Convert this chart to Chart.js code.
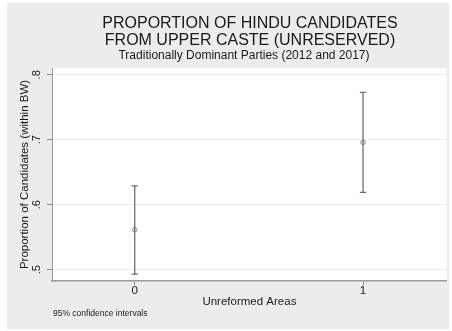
<!DOCTYPE html>
<html>
<head>
<meta charset="utf-8">
<script src="https://cdn.jsdelivr.net/npm/chart.js@4"></script>
<style>
  body { margin: 0; background: #fff; }
</style>
</head>
<body>
<canvas id="myChart" width="452" height="331"></canvas>
<script>
// data
var categories = [0, 1];
var means = [0.5615, 0.696];
var lower = [0.493, 0.619];
var upper = [0.629, 0.773];
var yTicks = [0.5, 0.6, 0.7, 0.8];
var yTickLabels = ['.5', '.6', '.7', '.8'];

var titleLines = ['PROPORTION OF HINDU CANDIDATES', 'FROM UPPER CASTE (UNRESERVED)'];
var subtitle = 'Traditionally Dominant Parties (2012 and 2017)';
var note = '95% confidence intervals';

var FONT = "'Liberation Sans', Arial, sans-serif";

var datasets = [];
for (var i = 0; i < categories.length; i++) {
    datasets.push({
        type: 'line',
        data: [{x: categories[i], y: lower[i]}, {x: categories[i], y: upper[i]}],
        borderColor: '#646464',
        borderWidth: 1.2,
        pointStyle: 'line',
        pointRadius: 3.2,
        pointBorderColor: '#707070',
        pointBorderWidth: 1.2,
        fill: false
    });
}
datasets.push({
    type: 'scatter',
    data: categories.map(function(c, i) { return {x: c, y: means[i]}; }),
    pointStyle: 'circle',
    pointRadius: 2.3,
    pointBorderColor: '#9a9a9a',
    pointBackgroundColor: '#e4e4e4',
    pointBorderWidth: 1
});

var backdrop = {
    id: 'backdrop',
    beforeDraw: function(chart) {
        var ctx = chart.ctx;
        var a = chart.chartArea;
        ctx.save();
        ctx.fillStyle = '#ffffff';
        ctx.fillRect(0, 0, chart.width, chart.height);
        ctx.fillStyle = '#ececec';
        ctx.fillRect(7, 3, 442, 326);
        ctx.fillStyle = '#ffffff';
        ctx.fillRect(a.left, a.top, a.right - a.left, a.bottom - a.top);
        ctx.restore();
    },
    afterDraw: function(chart) {
        var ctx = chart.ctx;
        var ys = chart.scales.y;
        ctx.save();
        ctx.fillStyle = '#1a1a1a';
        ctx.textAlign = 'center';
        ctx.textBaseline = 'middle';
        ctx.font = '16px ' + FONT;
        ctx.fillText(titleLines[0], 250, 24);
        ctx.fillText(titleLines[1], 250, 41);
        ctx.font = '12px ' + FONT;
        ctx.fillText(subtitle, 244, 56);
        // rotated y tick labels
        ctx.font = '11px ' + FONT;
        for (var i = 0; i < yTicks.length; i++) {
            var py = ys.getPixelForValue(yTicks[i]);
            ctx.save();
            ctx.translate(37, py);
            ctx.rotate(-Math.PI / 2);
            ctx.fillText(yTickLabels[i], 0, 0);
            ctx.restore();
        }
        ctx.textAlign = 'left';
        ctx.font = '8.5px ' + FONT;
        ctx.fillText(note, 53, 314);
        ctx.restore();
    }
};

var ctx = document.getElementById('myChart').getContext('2d');
var myChart = new Chart(ctx, {
    data: { datasets: datasets },
    options: {
        responsive: false,
        devicePixelRatio: 1,
        animation: false,
        layout: { padding: { left: 7, right: 4, top: 68, bottom: 0 } },
        plugins: {
            legend: { display: false },
            tooltip: { enabled: false }
        },
        scales: {
            x: {
                type: 'linear',
                min: -0.3624,
                max: 1.3668,
                afterBuildTicks: function(scale) {
                    scale.ticks = categories.map(function(c) { return {value: c}; });
                },
                afterFit: function(scale) { scale.height = 50; },
                grid: { drawOnChartArea: false, drawTicks: true, tickLength: 4, tickColor: '#8a8a8a' },
                border: { display: true, color: '#9a9a9a', width: 1.5 },
                ticks: {
                    padding: -1,
                    color: '#1a1a1a',
                    font: { family: FONT, size: 11.5 },
                    callback: function(v) { return String(v); }
                },
                title: {
                    display: true,
                    text: 'Unreformed Areas',
                    color: '#1a1a1a',
                    font: { family: FONT, size: 11.5 },
                    padding: { top: 0, bottom: 22 }
                }
            },
            y: {
                type: 'linear',
                min: 0.4825,
                max: 0.8105,
                afterBuildTicks: function(scale) {
                    scale.ticks = yTicks.map(function(v) { return {value: v}; });
                },
                afterFit: function(scale) { scale.width = 45; },
                grid: { color: '#ededed', lineWidth: 1, drawTicks: true, tickLength: 5, tickColor: '#8a8a8a' },
                border: { display: true, color: '#9a9a9a', width: 1 },
                ticks: { display: false },
                title: {
                    display: true,
                    text: 'Proportion of Candidates (within BW)',
                    color: '#1a1a1a',
                    font: { family: FONT, size: 11.5 },
                    padding: { top: 11, bottom: 0 }
                }
            }
        }
    },
    plugins: [backdrop]
});
</script>
</body>
</html>
